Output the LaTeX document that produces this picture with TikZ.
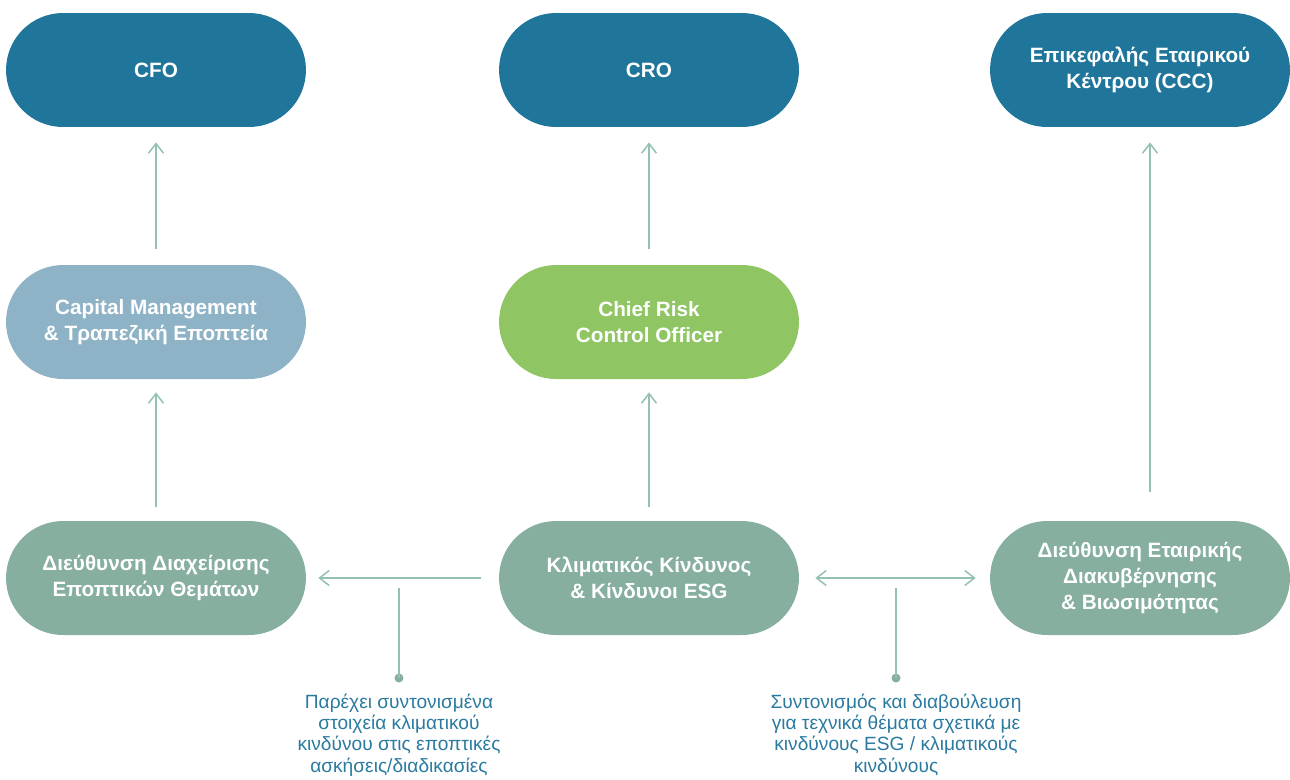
\documentclass[tikz,border=0pt]{standalone}
\usepackage{fontspec}
\setmainfont{Liberation Sans}
\usetikzlibrary{arrows.meta}
\definecolor{headblue}{HTML}{20759A}
\definecolor{paleblue}{HTML}{8FB3C6}
\definecolor{leafgreen}{HTML}{8FC562}
\definecolor{sagegreen}{HTML}{86AFA0}
\definecolor{linkgreen}{HTML}{93C1B2}
\definecolor{notetext}{HTML}{2A7AA0}
\begin{document}
\begin{tikzpicture}[x=0.02cm,y=-0.02cm,
  pill/.style={rectangle,rounded corners=1.14cm,minimum width=6cm,minimum height=2.28cm,inner sep=0pt,
    text=white,align=center,font=\bfseries\fontsize{11.8}{15}\selectfont},
  link/.style={draw=linkgreen,line width=0.85pt,-{Straight Barb[length=5.5pt,width=8.5pt]}},
  twolink/.style={link,{Straight Barb[length=5.5pt,width=8.5pt]}-{Straight Barb[length=5.5pt,width=8.5pt]}},
  note/.style={text=notetext,align=center,inner sep=0pt,anchor=north,font=\fontsize{10.9}{12}\selectfont}]
\useasboundingbox (0,0) rectangle (1290,779);

% top row
\node[pill,fill=headblue] (cfo) at (156,70) {CFO};
\node[pill,fill=headblue] (cro) at (649,70) {CRO};
\node[pill,fill=headblue] (ccc) at (1140,70) {Επικεφαλής Εταιρικού\\Κέντρου (CCC)};

% middle row
\node[pill,fill=paleblue] (capman) at (156,322) {Capital Management\\\& Τραπεζική Εποπτεία};
\node[pill,fill=leafgreen] (crco) at (649,322) {Chief Risk\\Control Officer};

% bottom row
\node[pill,fill=sagegreen] (ddep) at (156,578) {Διεύθυνση Διαχείρισης\\Εποπτικών Θεμάτων};
\node[pill,fill=sagegreen] (klima) at (649,578) {Κλιματικός Κίνδυνος\\\& Κίνδυνοι ESG};
\node[pill,fill=sagegreen] (dekb) at (1140,578) {Διεύθυνση Εταιρικής\\Διακυβέρνησης\\\& Βιωσιμότητας};

% upward links
\draw[link,shorten <=0.32cm,shorten >=0.3cm] (capman.north) -- (cfo.south);
\draw[link,shorten <=0.28cm,shorten >=0.26cm] (ddep.north) -- (capman.south);
\draw[link,shorten <=0.32cm,shorten >=0.3cm] (crco.north) -- (cro.south);
\draw[link,shorten <=0.28cm,shorten >=0.26cm] (klima.north) -- (crco.south);
\draw[link,shorten <=0.58cm,shorten >=0.3cm] ([xshift=0.2cm]dekb.north) -- ([xshift=0.2cm]ccc.south);

% sideways links
\draw[link,shorten <=0.36cm,shorten >=0.24cm] (klima.west) -- (ddep.east);
\draw[twolink,shorten <=0.32cm,shorten >=0.28cm] (klima.east) -- (dekb.west);

% notes
\coordinate (tapl) at (399,588);
\coordinate (tapr) at (896,588);
\fill[sagegreen] (399,678) circle [radius=4.5] coordinate (dotl);
\fill[sagegreen] (896,678) circle [radius=4.5] coordinate (dotr);
\draw[linkgreen,line width=0.85pt] (tapl) -- (dotl);
\draw[linkgreen,line width=0.85pt] (tapr) -- (dotr);
\node[note] (notel) at (399,694) {Παρέχει συντονισμένα\\στοιχεία κλιματικού\\κινδύνου στις εποπτικές\\ασκήσεις/διαδικασίες};
\node[note] (noter) at (896,694) {Συντονισμός και διαβούλευση\\για τεχνικά θέματα σχετικά με\\κινδύνους ESG / κλιματικούς\\κινδύνους};
\end{tikzpicture}
\end{document}
